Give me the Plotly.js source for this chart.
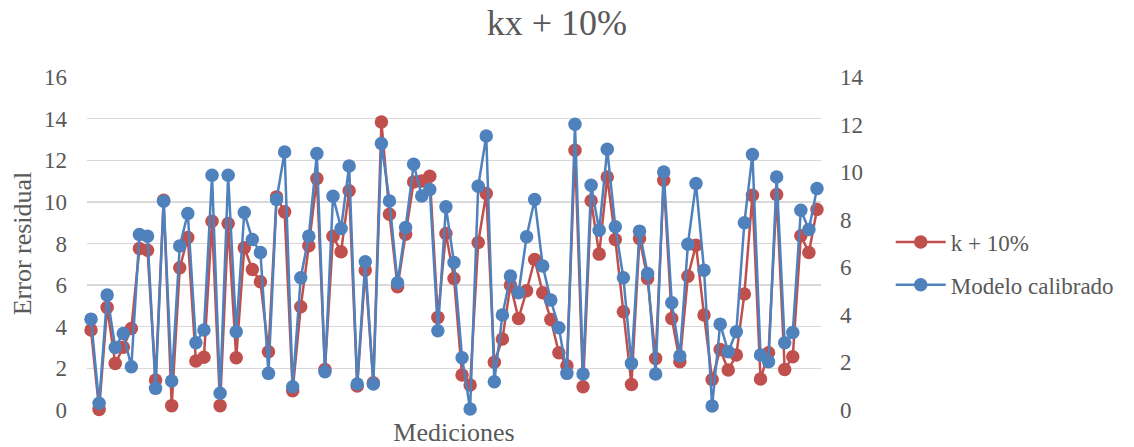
<!DOCTYPE html>
<html>
<head>
<meta charset="utf-8">
<script src="https://cdn.plot.ly/plotly-3.0.1.min.js"></script>
<style>html,body{margin:0;padding:0;background:#fff;}#chart{width:1134px;height:447px;}</style>
</head>
<body>
<div id="chart"></div>
<script>
const mediciones = Array.from({length: 91}, (_, i) => i + 1);

const seriesNames = ["k + 10%", "Modelo calibrado"];

const kMas10 = [3.84,0.03,4.93,2.24,3.01,3.92,7.76,7.68,1.44,10.08,
  0.21,6.83,8.29,2.35,2.53,9.07,0.21,8.96,2.51,7.79,
  6.75,6.16,2.8,10.24,9.52,0.93,4.96,7.89,11.12,1.95,
  8.35,7.6,10.53,1.15,6.72,1.31,13.84,9.41,5.92,8.45,
  10.96,11.0,11.23,4.45,8.48,6.32,1.68,1.2,8.05,10.4,
  2.29,3.41,6.0,4.4,5.73,7.23,5.63,4.35,2.75,2.13,
  12.48,1.12,10.05,7.49,11.2,8.19,4.72,1.23,8.24,6.32,
  2.48,11.04,4.4,2.32,6.43,7.92,4.56,1.47,2.91,1.92,
  2.64,5.57,10.32,1.49,2.75,10.35,1.95,2.56,8.37,7.57,9.63];

const modeloCalibrado = [3.82,0.28,4.83,2.63,3.22,1.82,7.38,7.31,0.91,8.78,
  1.22,6.90,8.26,2.83,3.36,9.87,0.70,9.87,3.29,8.30,
  7.17,6.62,1.54,8.85,10.85,0.98,5.56,7.31,10.78,1.61,
  8.99,7.63,10.26,1.09,6.23,1.09,11.2,8.79,5.35,7.67,
  10.33,9.0,9.27,3.33,8.54,6.2,2.2,0.04,9.41,11.52,
  1.19,3.99,5.63,4.93,7.28,8.85,6.05,4.62,3.46,1.54,
  12.01,1.51,9.45,7.56,10.96,7.7,5.56,1.96,7.52,5.74,
  1.51,10.01,4.51,2.27,6.97,9.52,5.88,0.17,3.61,2.45,
  3.29,7.87,10.74,2.31,2.03,9.8,2.83,3.26,8.4,7.59,9.31];

const leftTicks = [0,2,4,6,8,10,12,14,16];
const rightTicks = [0,2,4,6,8,10,12,14];

const FONT = "'Liberation Serif','Times New Roman',serif";
const GREY = "#595959";

const traces = [
  {
    x: mediciones, y: kMas10, name: seriesNames[0], type: "scatter", mode: "lines+markers",
    yaxis: "y", legendgroup: "a", cliponaxis: false,
    line: {color: "#C0504D", width: 2.5},
    marker: {color: "#C0504D", size: 13.5},
    hoverinfo: "skip"
  },
  {
    x: mediciones, y: modeloCalibrado, name: seriesNames[1], type: "scatter", mode: "lines+markers",
    yaxis: "y2", legendgroup: "b", cliponaxis: false,
    line: {color: "#4F81BD", width: 2.5},
    marker: {color: "#4F81BD", size: 13.5},
    hoverinfo: "skip"
  }
];

const layout = {
  width: 1134, height: 447,
  margin: {l: 87, r: 313, t: 77, b: 37},
  paper_bgcolor: "#fff", plot_bgcolor: "#fff",
  font: {family: FONT, color: GREY, size: 23},
  title: {text: "kx + 10%", font: {family: FONT, size: 36, color: GREY}, x: 0.491, xanchor: "center", y: 0.95, yanchor: "middle", yref: "container"},
  showlegend: true,
  legend: {x: 1.095, xanchor: "left", y: 0.44, yanchor: "middle", font: {family: FONT, size: 23, color: GREY},
           tracegroupgap: 10, itemwidth: 50, bgcolor: "rgba(0,0,0,0)"},
  xaxis: {range: [0.5, 91.5], showticklabels: false, showgrid: false, zeroline: false, showline: false, ticks: "",
          title: {text: "Mediciones", font: {family: FONT, size: 26, color: GREY}, standoff: 12}},
  yaxis: {range: [0, 16], tickvals: leftTicks, ticktext: leftTicks.map(String), showgrid: true, gridcolor: "#d9d9d9", gridwidth: 1.3,
          zeroline: false, showline: false, ticks: "", ticklabelstandoff: 19,
          tickfont: {family: FONT, size: 23, color: GREY},
          title: {text: "Error residual", font: {family: FONT, size: 26, color: GREY}, standoff: 4}},
  yaxis2: {range: [0, 14], tickvals: rightTicks, ticktext: rightTicks.map(String), overlaying: "y", side: "right",
           showgrid: false, zeroline: false, showline: false, ticks: "", ticklabelstandoff: 18,
           tickfont: {family: FONT, size: 23, color: GREY}}
};

Plotly.newPlot("chart", traces, layout, {displayModeBar: false, staticPlot: true});
</script>
</body>
</html>
